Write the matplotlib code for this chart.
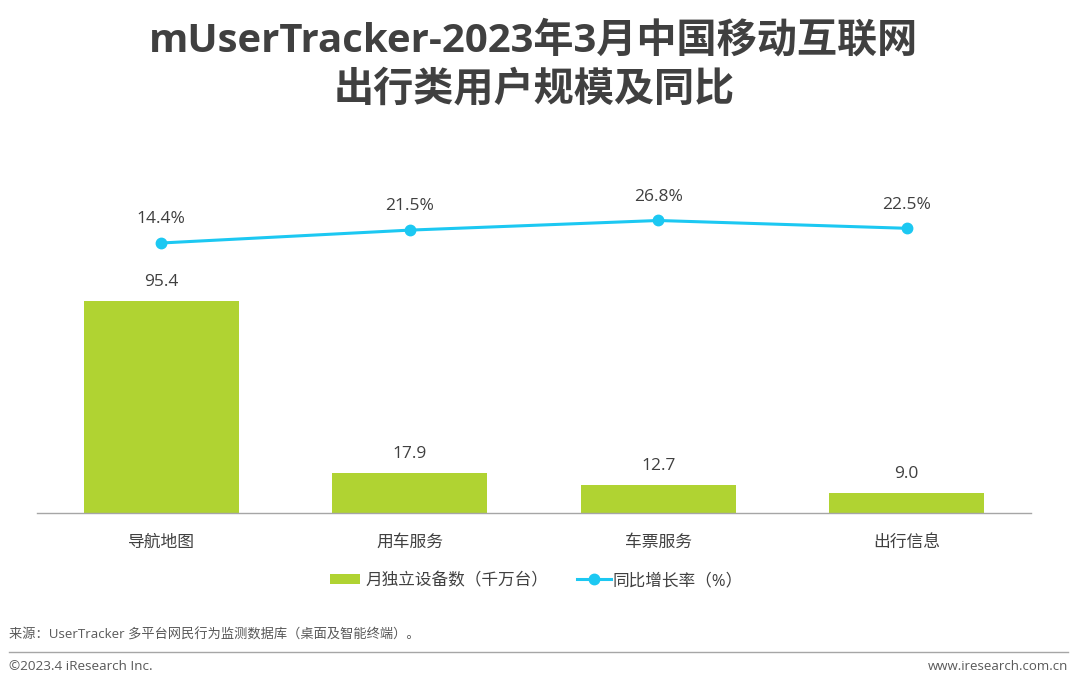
import matplotlib
matplotlib.use("Agg")
import matplotlib.pyplot as plt
from matplotlib.lines import Line2D
from matplotlib.patches import Rectangle

plt.rcParams['font.family'] = ['Open Sans', 'Noto Sans CJK SC', 'DejaVu Sans']

categories = ['导航地图', '用车服务', '车票服务', '出行信息']
devices = [95.4, 17.9, 12.7, 9.0]
growth = [14.4, 21.5, 26.8, 22.5]
bar_color = '#B0D332'
line_color = '#1CC8F2'
text_color = '#404040'

W, H = 1080, 686
fig = plt.figure(figsize=(W/100, H/100), dpi=100)
fig.patch.set_facecolor('white')

# plot area: x 37..1031, baseline y=513
ax = fig.add_axes([37/W, 1-513/H, (1031-37)/W, (513-150)/H])
x = list(range(len(categories)))
ax.bar(x, devices, width=0.625, color=bar_color)
ax.set_xlim(-0.5, 3.5)
ax.set_ylim(0, 95.4*363/212.5)
for s in ['top', 'left', 'right']:
    ax.spines[s].set_visible(False)
ax.spines['bottom'].set_color('#A6A6A6')
ax.spines['bottom'].set_linewidth(1)
ax.set_yticks([])
ax.set_xticks(x)
ax.set_xticklabels(categories, fontsize=12.1, color=text_color)
ax.tick_params(axis='x', length=0, pad=15.5)
for xi, v in zip(x, devices):
    ax.annotate(f'{v:.1f}', (xi, v), xytext=(0, 7.8), textcoords='offset points',
                ha='center', va='bottom', fontsize=12.5, color=text_color)

ax2 = ax.twinx()
ax2.set_ylim(14.4-(513-243)/1.815, 14.4+(243-150)/1.815)
ax2.plot(x, growth, color=line_color, lw=2.2, marker='o', ms=7.5, clip_on=False)
ax2.axis('off')
for xi, v in zip(x, growth):
    ax2.annotate(f'{v:.1f}%', (xi, v), xytext=(0, 11.3), textcoords='offset points',
                 ha='center', va='bottom', fontsize=12.5, color=text_color)

fig.text(534/W, 1-41/H, 'mUserTracker-2023年3月中国移动互联网', ha='center', va='center',
         fontsize=28.9, fontweight='bold', color=text_color)
fig.text(534/W, 1-90/H, '出行类用户规模及同比', ha='center', va='center',
         fontsize=28.9, fontweight='bold', color=text_color)

# legend keys
fig.add_artist(Rectangle((330/W, 1-584/H), 30/W, 10/H, transform=fig.transFigure,
                         facecolor=bar_color, edgecolor='none'))
fig.add_artist(Line2D([577/W, 611/W], [1-579/H, 1-579/H], color=line_color, lw=2.2))
fig.add_artist(Line2D([594/W], [1-579/H], color=line_color, marker='o', ms=7.5))
fig.text(365/W, 1-581/H, '月独立设备数（千万台）', fontsize=12, color=text_color, va='center')
fig.text(613/W, 1-581/H, '同比增长率（%）', fontsize=12, color=text_color, va='center')

fig.text(9/W, 1-635/H, '来源：UserTracker 多平台网民行为监测数据库（桌面及智能终端）。', fontsize=9.5,
         color='#595959', va='center')
fig.add_artist(Line2D([9/W, 1068/W], [1-652/H, 1-652/H], color='#A6A6A6', lw=1))
fig.text(9/W, 1-666/H, '©2023.4 iResearch Inc.', fontsize=9.7, color='#595959', va='center')
fig.text(1068/W, 1-666/H, 'www.iresearch.com.cn', fontsize=9.5, color='#595959', va='center', ha='right')

fig.savefig('out.png', dpi=100)
